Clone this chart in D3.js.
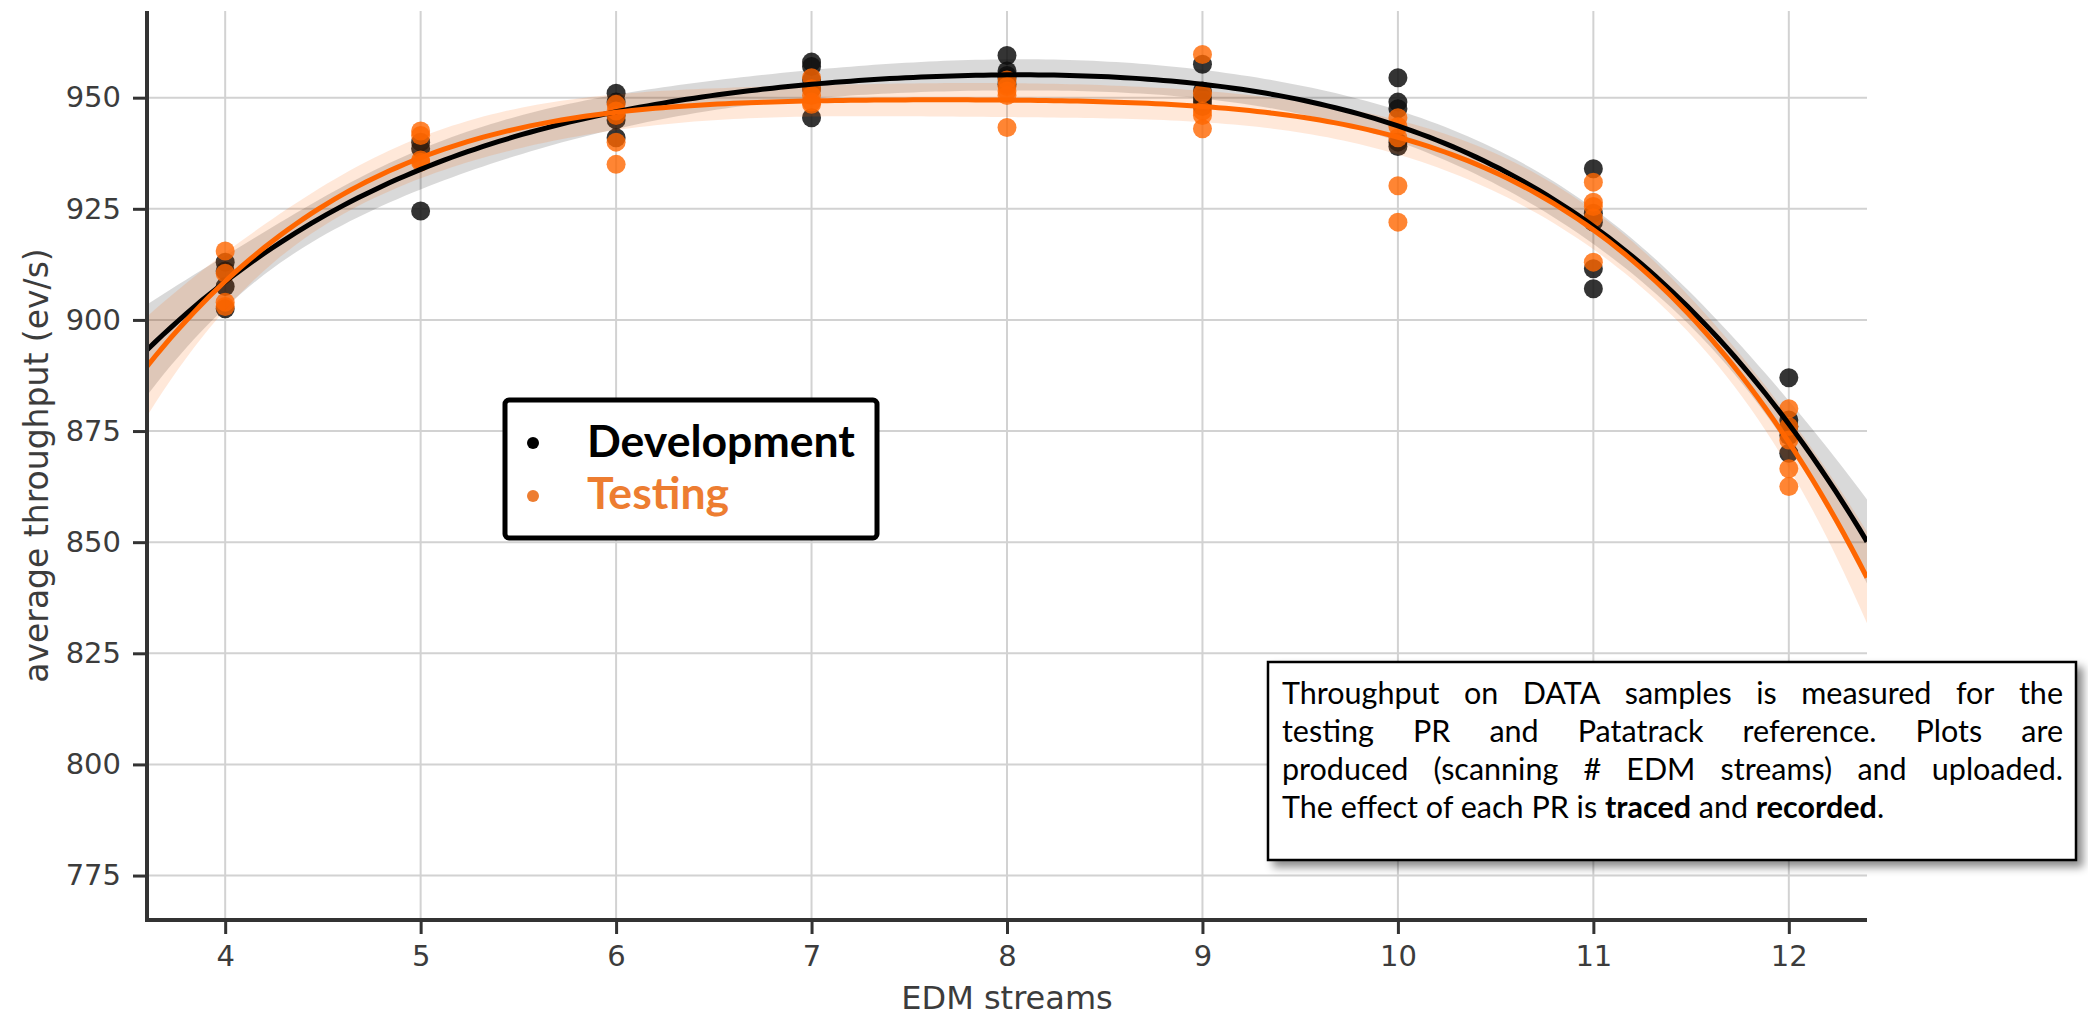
<!DOCTYPE html>
<html><head><meta charset="utf-8">
<script src="https://cdn.jsdelivr.net/npm/d3@7"></script>
<style>html,body{margin:0;padding:0;background:#fff;} svg{display:block}</style>
</head><body><svg id="chart" width="2088" height="1020"></svg>
<script>
// ---------------- data ----------------
const streams = [4, 5, 6, 7, 8, 9, 10, 11, 12];
const devValues = [
  [913, 911, 907.5, 902.5],
  [940, 938.5, 924.5],
  [951, 949, 946, 945, 941],
  [958, 957, 954, 952, 945.5],
  [959.5, 956, 955, 954.5, 953],
  [957.5, 951.5, 950, 949, 948],
  [954.5, 949, 947.5, 940, 939],
  [934, 924, 922, 911.5, 907],
  [887, 877.5, 876, 874, 870]
];
const testValues = [
  [915.5, 910.5, 904, 903],
  [942.5, 941.5, 936, 935.5],
  [948.5, 947, 946, 940, 935],
  [954.5, 952, 950.5, 949, 948.5],
  [954, 952.5, 951.5, 950.5, 943.3],
  [959.7, 951, 947, 946, 943],
  [945.5, 943.5, 941, 930.2, 922],
  [931, 926.5, 925.5, 923, 913],
  [880, 876, 873, 866.5, 862.5]
];
const yTicks = [775, 800, 825, 850, 875, 900, 925, 950];
const xTicks = streams;
const seriesNames = ["Development", "Testing"];
const xLabel = "EDM streams";
const yLabel = "average throughput (ev/s)";
const noteLines = [
  "Throughput on DATA samples is measured for the",
  "testing PR and Patatrack reference. Plots are",
  "produced (scanning # EDM streams) and uploaded."
];
const noteLast = [["The effect of each PR is ", false], ["traced", true], [" and ", false], ["recorded", true], [".", false]];

// ---------------- layout ----------------
const W = 2088, H = 1020;
const L = 147, R = 1867, T = 11, B = 920;
const svg = d3.select("#chart");
const x = d3.scaleLinear().domain([3.6, 12.4]).range([L, R]);
const y = d3.scaleLinear().domain([765, 969.5]).range([B, T]);

const tickFont = "DejaVu Sans, sans-serif";
const txtCol = "#3c3c3c";

// grid
const g = svg.append("g");
g.selectAll("line.gy").data(yTicks).enter().append("line")
  .attr("x1", L).attr("x2", R).attr("y1", d => y(d)).attr("y2", d => y(d))
  .attr("stroke", "#d2d2d2").attr("stroke-width", 2);
g.selectAll("line.gx").data(xTicks).enter().append("line")
  .attr("y1", T).attr("y2", B).attr("x1", d => x(d)).attr("x2", d => x(d))
  .attr("stroke", "#d2d2d2").attr("stroke-width", 2);

// ---------------- regression (polynomial fit, 95% CI) ----------------
function invert(M) {
  const n = M.length;
  const A = M.map((r, i) => r.concat(Array.from({length: n}, (_, j) => i === j ? 1 : 0)));
  for (let c = 0; c < n; c++) {
    let p = c;
    for (let r = c + 1; r < n; r++) if (Math.abs(A[r][c]) > Math.abs(A[p][c])) p = r;
    [A[c], A[p]] = [A[p], A[c]];
    const pv = A[c][c];
    for (let j = 0; j < 2 * n; j++) A[c][j] /= pv;
    for (let r = 0; r < n; r++) if (r !== c) {
      const f = A[r][c];
      for (let j = 0; j < 2 * n; j++) A[r][j] -= f * A[c][j];
    }
  }
  return A.map(r => r.slice(n));
}
function fit(values, order) {
  const xs = [], ys = [];
  values.forEach((arr, i) => arr.forEach(v => { xs.push(streams[i] - 8); ys.push(v); }));
  const m = order + 1;
  const A = Array.from({length: m}, () => Array(m).fill(0));
  const b = Array(m).fill(0);
  xs.forEach((xv, i) => {
    const p = d3.range(m).map(k => Math.pow(xv, k));
    for (let r = 0; r < m; r++) { b[r] += p[r] * ys[i]; for (let c = 0; c < m; c++) A[r][c] += p[r] * p[c]; }
  });
  const inv = invert(A);
  const coef = inv.map(row => row.reduce((s, v, j) => s + v * b[j], 0));
  const pred = xv => d3.range(m).reduce((s, k) => s + coef[k] * Math.pow(xv, k), 0);
  let ss = 0; xs.forEach((xv, i) => { ss += (ys[i] - pred(xv)) ** 2; });
  const s2 = ss / (xs.length - m);
  const tval = 2.03;
  const grid = d3.range(3.6, 12.4001, 0.04);
  return grid.map(gx => {
    const u = gx - 8;
    const p = d3.range(m).map(k => Math.pow(u, k));
    let q = 0;
    for (let r = 0; r < m; r++) for (let c = 0; c < m; c++) q += p[r] * inv[r][c] * p[c];
    const se = Math.sqrt(s2 * q);
    const yh = pred(u);
    return {x: gx, y: yh, lo: yh - tval * se, hi: yh + tval * se};
  });
}
const devFit = fit(devValues, 4);
const testFit = fit(testValues, 4);

const plot = svg.append("g");
plot.append("clipPath").attr("id", "clip").append("rect").attr("x", L).attr("y", T).attr("width", R - L).attr("height", B - T);
const area = d3.area().x(d => x(d.x)).y0(d => y(d.lo)).y1(d => y(d.hi));
const line = d3.line().x(d => x(d.x)).y(d => y(d.y)).curve(d3.curveLinear);

function pts(values) {
  const out = [];
  values.forEach((arr, i) => arr.forEach(v => out.push({x: streams[i], v})));
  return out;
}
const devCol = "#111111", testCol = "#ff6600";
const layer = plot.append("g").attr("clip-path", "url(#clip)");
layer.selectAll("circle.dev").data(pts(devValues)).enter().append("circle")
  .attr("cx", d => x(d.x)).attr("cy", d => y(d.v)).attr("r", 9.5)
  .attr("fill", devCol).attr("fill-opacity", 0.85);
layer.append("path").datum(devFit).attr("d", area).attr("fill", "#000").attr("fill-opacity", 0.15);
layer.selectAll("circle.test").data(pts(testValues)).enter().append("circle")
  .attr("cx", d => x(d.x)).attr("cy", d => y(d.v)).attr("r", 9.5)
  .attr("fill", testCol).attr("fill-opacity", 0.8);
layer.append("path").datum(testFit).attr("d", area).attr("fill", testCol).attr("fill-opacity", 0.15);
layer.append("path").datum(devFit).attr("d", line).attr("fill", "none").attr("stroke", "#000").attr("stroke-width", 5);
layer.append("path").datum(testFit).attr("d", line).attr("fill", "none").attr("stroke", testCol).attr("stroke-width", 5);

// ---------------- axes ----------------
const xAxis = d3.axisBottom(x).tickValues(xTicks).tickSize(14).tickPadding(10).tickFormat(d3.format("d"));
const yAxis = d3.axisLeft(y).tickValues(yTicks).tickSize(14).tickPadding(12).tickFormat(d3.format("d"));
const gx = svg.append("g").attr("transform", `translate(0,${B})`).call(xAxis);
const gy = svg.append("g").attr("transform", `translate(${L},0)`).call(yAxis);
[gx, gy].forEach(ax => {
  ax.select(".domain").remove();
  ax.selectAll(".tick line").attr("stroke", "#333").attr("stroke-width", 3);
  ax.selectAll(".tick text").attr("fill", txtCol).attr("font-family", tickFont).attr("font-size", 29);
});
gx.selectAll(".tick text").attr("dy", "0.75em");
// spines
svg.append("line").attr("x1", L).attr("x2", L).attr("y1", T).attr("y2", B + 2).attr("stroke", "#333").attr("stroke-width", 4);
svg.append("line").attr("x1", L - 2).attr("x2", R).attr("y1", B).attr("y2", B).attr("stroke", "#333").attr("stroke-width", 4);

svg.append("text").attr("x", (L + R) / 2).attr("y", 1009).attr("text-anchor", "middle")
  .attr("font-family", tickFont).attr("font-size", 32).attr("fill", txtCol).text(xLabel);
svg.append("text").attr("transform", `translate(36,${(T + B) / 2}) rotate(-90)`).attr("text-anchor", "middle")
  .attr("dominant-baseline", "central")
  .attr("font-family", tickFont).attr("font-size", 33).attr("fill", txtCol).text(yLabel);

// ---------------- legend box ----------------
const legColors = ["#000000", "#ed7d31"];
const leg = svg.append("g");
leg.append("rect").attr("x", 505).attr("y", 400).attr("width", 372).attr("height", 138).attr("rx", 4)
  .attr("fill", "#fff").attr("stroke", "#000").attr("stroke-width", 5);
const legFont = "Lato, 'Open Sans', sans-serif";
seriesNames.forEach((name, i) => {
  leg.append("circle").attr("cx", 533).attr("cy", 443 + i * 53).attr("r", 6).attr("fill", legColors[i]);
  leg.append("text").attr("x", 587).attr("y", 457 + i * 52).attr("font-family", legFont).attr("font-weight", "bold")
    .attr("font-size", 42).attr("fill", legColors[i]).text(name);
});
const legTexts = leg.selectAll("text");
const devW = legTexts.nodes()[0].getComputedTextLength();
const legSize = 42 * 268 / devW;
legTexts.attr("font-size", legSize);

// ---------------- note box ----------------
const defs = svg.append("defs");
const f = defs.append("filter").attr("id", "shadow").attr("x", "-5%").attr("y", "-5%").attr("width", "115%").attr("height", "125%");
f.append("feDropShadow").attr("dx", 6).attr("dy", 6).attr("stdDeviation", 4).attr("flood-color", "#000").attr("flood-opacity", 0.45);
const nx = 1268, ny = 662, nw = 808, nh = 198;
svg.append("rect").attr("x", nx).attr("y", ny).attr("width", nw).attr("height", nh)
  .attr("fill", "#fff").attr("stroke", "#000").attr("stroke-width", 2.5).attr("filter", "url(#shadow)");
const noteFont = "Lato, 'Open Sans', sans-serif";
const nfs = 30.5;
const tx0 = 1282, tx1 = 2063, lineY = [704, 742, 780, 818];
const note = svg.append("g").attr("font-family", noteFont).attr("fill", "#000");
const probe = note.append("text").attr("font-size", nfs).text(noteLines[2]);
const baseW = probe.node().getComputedTextLength();
probe.remove();
// horizontal condensing so the text reads like the narrow original face
const sx = Math.min(1, (tx1 - tx0) / baseW);
const inner = note.append("g").attr("transform", `translate(${tx0},0) scale(${sx},1)`);
const Wt = (tx1 - tx0) / sx;
noteLines.forEach((ln, li) => {
  const words = ln.split(" ");
  const t = inner.append("text").attr("y", lineY[li]).attr("font-size", nfs);
  const widths = words.map(w => {
    const p = inner.append("text").attr("font-size", nfs).text(w);
    const ww = p.node().getComputedTextLength(); p.remove(); return ww;
  });
  const gap = (Wt - d3.sum(widths)) / (words.length - 1);
  let cx = 0;
  words.forEach((w, i) => {
    t.append("tspan").attr("x", cx).text(w);
    cx += widths[i] + gap;
  });
});
const last = inner.append("text").attr("x", 0).attr("y", lineY[3]).attr("font-size", nfs).attr("xml:space", "preserve");
noteLast.forEach(([s, bold]) => {
  last.append("tspan").attr("font-weight", bold ? "bold" : "normal").text(s);
});
</script>
</body></html>
